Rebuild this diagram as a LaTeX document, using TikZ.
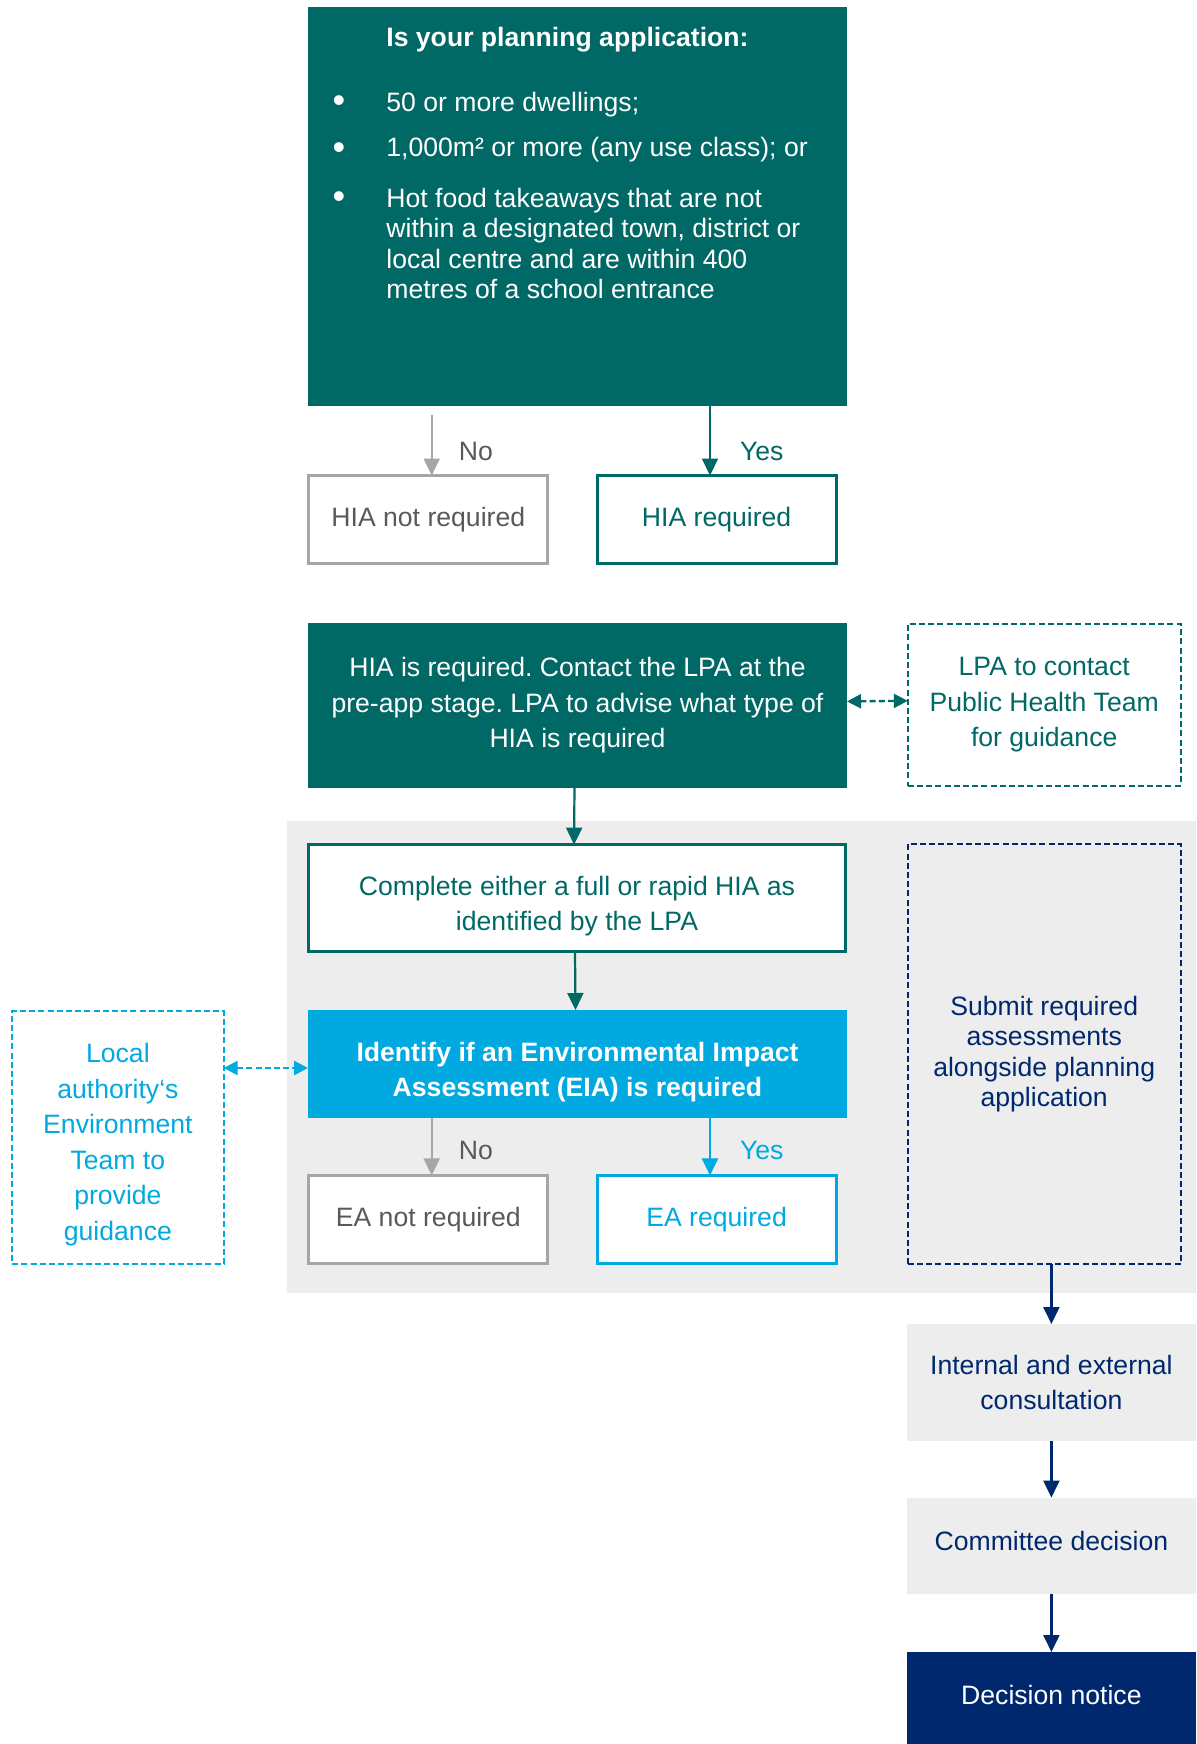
\documentclass[tikz,border=0pt]{standalone}
\usepackage{fontspec}
\setmainfont{Liberation Sans}
\frenchspacing
\usetikzlibrary{arrows.meta}
\definecolor{hiateal}{HTML}{006865}
\definecolor{eiacyan}{HTML}{00A9E0}
\definecolor{plannavy}{HTML}{00286E}
\definecolor{bordergrey}{HTML}{A6A6A6}
\definecolor{textgrey}{HTML}{595959}
\definecolor{panelgrey}{HTML}{EDEDED}
\tikzset{
  box/.style={inner sep=0pt, outer sep=0pt, align=center, font=\fontsize{13.3}{17.8}\selectfont},
  solidbox/.style={box, fill=#1, text=white},
  linebox/.style={box, draw=#1, text=#1, fill=white, line width=1.6pt},
  dashbox/.style={box, draw=#1, text=#1, line width=1.1pt, dash pattern=on 3pt off 1.6pt},
  greybox/.style={box, fill=panelgrey, text=plannavy},
  boxtext/.style={box, text=#1},
  applist/.style={inner sep=0pt, text=white, anchor=west, align=left, font=\fontsize{13.3}{15.2}\selectfont},
  dot/.style={inner sep=0pt, text=white, font=\fontsize{18}{18}\selectfont},
  answer/.style={inner sep=0pt, anchor=west, font=\fontsize{13.3}{17.8}\selectfont},
  flow/.style={draw=#1, line width=1.1pt, -{Triangle[length=8.5pt,width=8pt]}},
  twoway/.style={draw=#1, line width=1.2pt, dash pattern=on 3pt off 1.6pt,
    {Triangle[length=7pt,width=7pt]}-{Triangle[length=7pt,width=7pt]}},
}
\begin{document}
\begin{tikzpicture}[x=0.5pt,y=-0.5pt]
  \useasboundingbox (0,0) rectangle (1196,1744);
  \fill[panelgrey] (287,821) rectangle (1196,1293);

  \node[solidbox=hiateal, minimum width=269.5pt, minimum height=199.5pt] (app) at (577.5,206.5) {};
  \node[applist, font=\bfseries\fontsize{13.3}{15.2}\selectfont] (apptitle) at (386,40) {Is your planning application:};
  \node[dot] (bullet1) at (339,104) {\textbullet};
  \node[dot] (bullet2) at (339,151) {\textbullet};
  \node[dot] (bullet3) at (339,200) {\textbullet};
  \node[applist] (item1) at (386,104.5) {50 or more dwellings;};
  \node[applist] (item2) at (386,150) {1,000m² or more (any use class); or};
  \node[applist] (item3) at (386,243.5) {Hot food takeaways that are not\\within a designated town, district or\\local centre and are within 400\\metres of a school entrance};

  \node[linebox=bordergrey, text=textgrey, minimum width=119.5pt, minimum height=44pt] (hiano) at (428.3,519.5) {HIA not required};
  \node[linebox=hiateal, minimum width=119.5pt, minimum height=44pt] (hiayes) at (716.6,519.5) {HIA required};

  \node[solidbox=hiateal, minimum width=269.5pt, minimum height=82.4pt] (hiareq) at (577.5,705.4)
    {HIA is required. Contact the LPA at the\\pre-app stage. LPA to advise what type of\\HIA is required};
  \node[dashbox=hiateal, minimum width=136.4pt, minimum height=80.8pt] (lpa) at (1044.2,704.8)
    {LPA to contact\\Public Health Team\\for guidance};

  \node[linebox=hiateal, minimum width=268.3pt, minimum height=53.6pt] (complete) at (577,898.2) {};
  \node[boxtext=hiateal] (completetext) at ([yshift=-4pt]complete.center)
    {Complete either a full or rapid HIA as\\identified by the LPA};
  \node[solidbox=eiacyan, minimum width=269.5pt, minimum height=54pt] (eia) at (577.5,1064) {};
  \node[boxtext=white, font=\bfseries\fontsize{13.3}{17.2}\selectfont] (eiatext) at ([yshift=-4pt]eia.center)
    {Identify if an Environmental Impact\\Assessment (EIA) is required};
  \node[dashbox=eiacyan, minimum width=105.8pt, minimum height=126.5pt] (local) at (117.9,1137.6) {};
  \node[boxtext=eiacyan] (localtext) at ([yshift=-3.5pt]local.center)
    {Local\\authority‘s\\Environment\\Team to\\provide\\guidance};
  \node[linebox=bordergrey, text=textgrey, minimum width=119.5pt, minimum height=44pt] (eano) at (428.3,1219.4) {EA not required};
  \node[linebox=eiacyan, minimum width=119.5pt, minimum height=44pt] (eayes) at (716.6,1219.4) {EA required};

  \node[dashbox=plannavy, minimum width=136.4pt, minimum height=210pt, font=\fontsize{13.3}{15.2}\selectfont] (submit) at (1044.2,1054)
    {Submit required\\assessments\\alongside planning\\application};
  \node[greybox, minimum width=144.6pt, minimum height=58.4pt] (consult) at (1051.4,1382.4)
    {Internal and external\\consultation};
  \node[greybox, minimum width=144.6pt, minimum height=48.4pt] (committee) at (1051.4,1546) {};
  \node[boxtext=plannavy] (committeetext) at ([yshift=2.5pt]committee.center) {Committee decision};
  \node[solidbox=plannavy, minimum width=144.6pt, minimum height=46pt] (notice) at (1051.4,1698) {};
  \node[boxtext=white] (noticetext) at ([yshift=1.5pt]notice.center) {Decision notice};

  \begin{scope}
    \draw[flow=bordergrey] ([xshift=1.7pt,yshift=-4.5pt]hiano.north |- app.south) to
      node[answer, pos=0.61, xshift=13pt, text=textgrey] {No} ([xshift=1.7pt]hiano.north);
    \draw[flow=hiateal] ([xshift=-3.3pt]hiayes.north |- app.south) to
      node[answer, pos=0.66, xshift=14.5pt, text=hiateal] {Yes} ([xshift=-3.3pt]hiayes.north);
    \draw[twoway=hiateal] ([yshift=2pt]hiareq.east) to ([yshift=2pt]lpa.west);
    \draw[flow=hiateal] ([xshift=-1.5pt]hiareq.south) to ([xshift=-1.5pt]complete.north);
    \draw[flow=hiateal] ([xshift=-1pt]complete.south) to ([xshift=-1pt]eia.north);
    \draw[twoway=eiacyan] ([yshift=-2pt]local.east |- eia.west) to ([yshift=-2pt]eia.west);
    \draw[flow=bordergrey] ([xshift=1.7pt]eano.north |- eia.south) to
      node[answer, pos=0.56, xshift=13pt, text=textgrey] {No} ([xshift=1.7pt]eano.north);
    \draw[flow=eiacyan] ([xshift=-3.3pt]eayes.north |- eia.south) to
      node[answer, pos=0.56, xshift=14.5pt, text=eiacyan] {Yes} ([xshift=-3.3pt]eayes.north);
    \draw[flow=plannavy] (consult.north |- submit.south) to (consult.north);
    \draw[flow=plannavy] (consult.south) to (committee.north);
    \draw[flow=plannavy] (committee.south) to (notice.north);
  \end{scope}
\end{tikzpicture}
\end{document}
